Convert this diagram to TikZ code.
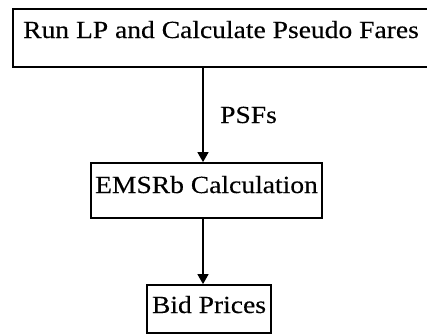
\documentclass[tikz,border=0pt]{standalone}
\usepackage{fontspec}
\setmainfont[FakeStretch=1.12,FakeBold=0.3]{Liberation Serif}
\usetikzlibrary{arrows.meta}
\begin{document}
\begin{tikzpicture}[x=1pt,y=-1pt,
  box/.style={draw,line width=1.8pt,inner xsep=0pt,inner ysep=0pt,anchor=base},
  lbl/.style={inner sep=0pt,anchor=base},
  flow/.style={line width=1.6pt,-{Triangle[width=11pt,length=10pt]}},
  every node/.style={font=\fontsize{24.6}{28}\selectfont}]
\useasboundingbox (0,0) rectangle (427,335);
\begin{scope}
\clip (0,0) rectangle (427,335);
\node[box,minimum width=416pt,text height=29pt,text depth=29pt] (lp) at (221,38) {Run LP and Calculate Pseudo Fares};
\end{scope}
\node[box,minimum width=231pt,text height=30pt,text depth=25pt] (emsr) at (206.5,193) {EMSRb Calculation};
\node[box,minimum width=124pt,text height=28pt,text depth=20pt] (bid) at (209,313) {Bid Prices};
\coordinate (ax) at (203,0);
\draw[flow] (lp.south -| ax) -- (emsr.north -| ax);
\draw[flow] (emsr.south -| ax) -- (bid.north -| ax);
\node[lbl] (psf) at (248.5,123) {PSFs};
\end{tikzpicture}
\end{document}
